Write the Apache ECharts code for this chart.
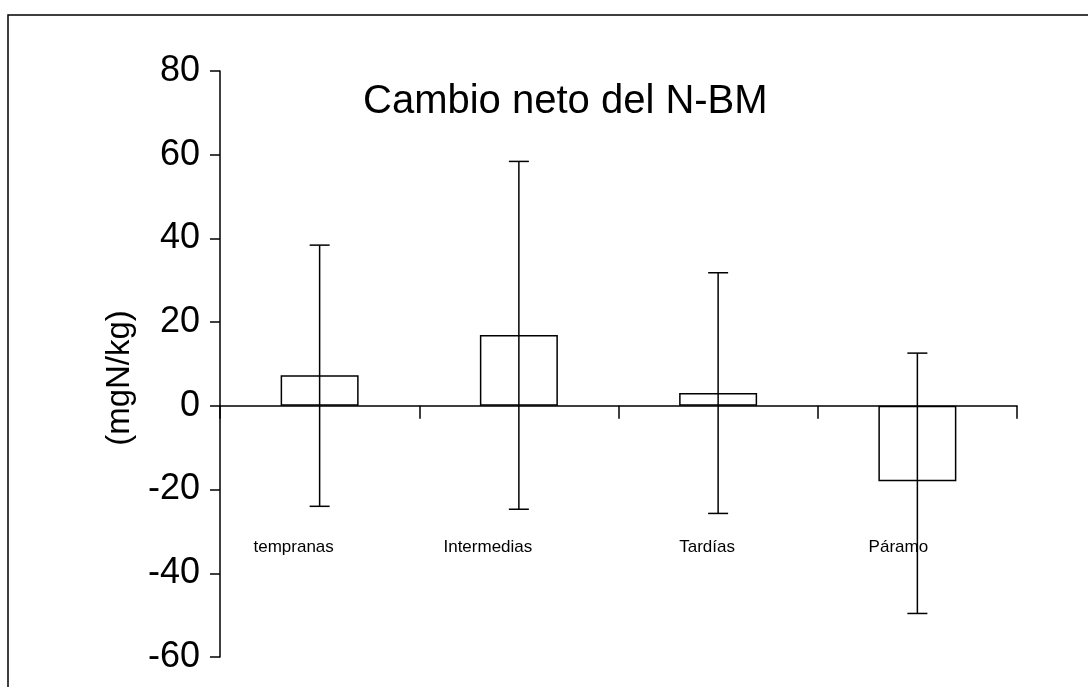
<!DOCTYPE html>
<html>
<head>
<meta charset="utf-8">
<title>Cambio neto del N-BM</title>
<script src="https://cdn.jsdelivr.net/npm/echarts@6/dist/echarts.min.js"></script>
<style>
  html, body { margin: 0; padding: 0; background: #ffffff; }
  #chart { width: 1088px; height: 687px; }
</style>
</head>
<body>
<div id="chart"></div>
<script>
// Net change of microbial-biomass nitrogen per successional stage
const categories = ['tempranas', 'Intermedias', 'Tardías', 'Páramo'];
const meanValues = [7.3, 16.9, 3.1, -18.0];
const lowerValues = [-24.0, -24.7, -25.7, -49.6];
const upperValues = [38.4, 58.4, 31.8, 12.6];
const yTicks = [-60, -40, -20, 0, 20, 40, 60, 80];

// horizontal nudge of each category label (px, negative = left)
const labelNudge = [-26, -31, -11, -19];

const FONT = '"Liberation Sans", Arial, sans-serif';
const INK = '#000000';
const LW = 1.5;

const chart = echarts.init(document.getElementById('chart'), null, { renderer: 'canvas' });

const xData = categories.map(function (name, i) {
  const pad = labelNudge[i] < 0 ? [0, -2 * labelNudge[i], 0, 0] : [0, 0, 0, 2 * labelNudge[i]];
  return { value: name, textStyle: { padding: pad } };
});

const errData = categories.map(function (name, i) {
  return [i, lowerValues[i], upperValues[i]];
});

const option = {
  backgroundColor: '#ffffff',
  animation: false,
  title: {
    text: 'Cambio neto del N-BM',
    left: 363,
    top: 82,
    padding: 0,
    textStyle: { fontFamily: FONT, fontSize: 40, fontWeight: 'normal', color: INK }
  },
  graphic: [
    {
      type: 'rect',
      z: -1,
      silent: true,
      shape: { x: 8, y: 15, width: 1200, height: 800 },
      style: { fill: 'none', stroke: INK, lineWidth: LW }
    },
    {
      type: 'text',
      x: 120,
      y: 378,
      rotation: Math.PI / 2,
      style: {
        text: '(mgN/kg)',
        font: '33px ' + FONT,
        fill: INK,
        textAlign: 'center',
        textVerticalAlign: 'middle'
      }
    }
  ],
  grid: { left: 220, right: 71, top: 71, bottom: 30, containLabel: false, outerBoundsMode: 'none' },
  xAxis: {
    type: 'category',
    data: xData,
    boundaryGap: true,
    axisLine: { show: true, onZero: true, lineStyle: { color: INK, width: LW } },
    axisTick: { show: true, inside: false, length: 13, interval: 0, alignWithLabel: false, lineStyle: { color: INK, width: LW } },
    axisLabel: {
      interval: 0,
      margin: -118,
      fontFamily: FONT,
      fontSize: 17,
      color: INK
    },
    splitLine: { show: false }
  },
  yAxis: {
    type: 'value',
    min: yTicks[0],
    max: yTicks[yTicks.length - 1],
    interval: 20,
    axisLine: { show: true, lineStyle: { color: INK, width: LW } },
    axisTick: { show: true, inside: false, length: 10, lineStyle: { color: INK, width: LW } },
    axisLabel: { margin: 20, fontFamily: FONT, fontSize: 36, color: INK },
    splitLine: { show: false }
  },
  series: [
    {
      name: 'N-BM',
      type: 'bar',
      data: meanValues,
      barWidth: 78,
      itemStyle: { color: '#ffffff', borderColor: INK, borderWidth: LW },
      z: 2
    },
    {
      name: 'error',
      type: 'custom',
      data: errData,
      z: 3,
      renderItem: function (params, api) {
        const hi = api.coord([api.value(0), api.value(2)]);
        const lo = api.coord([api.value(0), api.value(1)]);
        const x = hi[0];
        const half = 10;
        const st = { stroke: INK, lineWidth: LW, fill: 'none' };
        return {
          type: 'group',
          children: [
            { type: 'line', shape: { x1: x, y1: hi[1], x2: x, y2: lo[1] }, style: st },
            { type: 'line', shape: { x1: x - half, y1: hi[1], x2: x + half, y2: hi[1] }, style: st },
            { type: 'line', shape: { x1: x - half, y1: lo[1], x2: x + half, y2: lo[1] }, style: st }
          ]
        };
      }
    }
  ]
};

chart.setOption(option);
</script>
</body>
</html>
